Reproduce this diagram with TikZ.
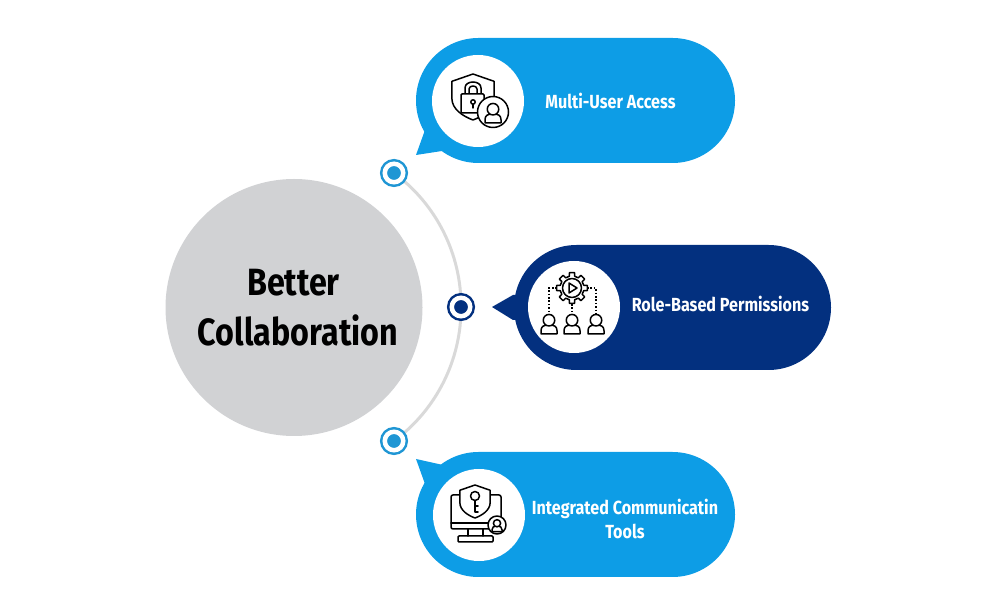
\documentclass[tikz,border=0pt]{standalone}
\usepackage{fontspec}
\setmainfont{Fira Sans}[FakeStretch=0.85]
\usepackage{tikz}
\usetikzlibrary{backgrounds,shapes.misc}
\definecolor{SkyBlue}{RGB}{13,157,230}
\definecolor{RingBlue}{RGB}{31,150,212}
\definecolor{NavyBlue}{RGB}{3,48,127}
\definecolor{HubGrey}{RGB}{209,210,212}
\definecolor{ArcGrey}{RGB}{217,217,217}
\newlength{\px}
\setlength{\px}{0.025cm}
\begin{document}
\begin{tikzpicture}[
    x=0.025cm,
    y=-0.025cm,
    pill/.style={
      shape=rounded rectangle,
      minimum width=319\px,
      minimum height=125\px,
      inner sep=0pt
    },
    disc/.style={
      circle,
      fill=white,
      minimum size=92\px,
      inner sep=0pt
    },
    marker/.style={
      circle,
      draw=#1,
      fill=#1,
      line width=2.5\px,
      double=white,
      double distance=4.5\px,
      minimum size=18.5\px,
      inner sep=0pt
    },
    label/.style={
      text=white,
      align=center,
      font=\bfseries\fontsize{13.5}{17.2}\selectfont
    },
    hub label/.style={
      text=black,
      align=center,
      font=\bfseries\fontsize{27}{35.5}\selectfont
    },
    icon/.style={draw=black, line width=1.5\px, line join=round, line cap=round},
    dots/.style={draw=black, line width=1.6\px, dash pattern=on 1.6\px off 1.8\px},
    person/.pic={
      \draw[icon] (-#1*1.0,#1*1.35) -- (#1*1.0,#1*1.35) -- (#1*1.0,#1*0.95)
        .. controls (#1*1.0,#1*0.45) and (#1*0.6,#1*0.25) .. (#1*0.35,#1*0.25)
        -- (-#1*0.35,#1*0.25)
        .. controls (-#1*0.6,#1*0.25) and (-#1*1.0,#1*0.45) .. (-#1*1.0,#1*0.95)
        -- cycle;
      \draw[icon, fill=white] (0,-#1*0.35) circle[radius=#1*0.72];
    },
    shield/.pic={
      \draw[icon, fill=white] (0,-#1) -- (#1*0.92,-#1*0.68) -- (#1*0.92,#1*0.05)
        .. controls (#1*0.92,#1*0.55) and (#1*0.4,#1*0.85) .. (0,#1)
        .. controls (-#1*0.4,#1*0.85) and (-#1*0.92,#1*0.55) .. (-#1*0.92,#1*0.05)
        -- (-#1*0.92,-#1*0.68) -- cycle;
    },
    gear/.pic={
      \draw[icon] (-13:12) \foreach \a in {0,45,...,315} {
          -- (\a-10:15.5) -- (\a+10:15.5) -- (\a+13:12) -- (\a+32:12)
        };
      \draw[icon] (0,0) circle[radius=9.5];
      \draw[icon] (-3,-5) -- (5,0) -- (-3,5) -- cycle;
    }
  ]
  \useasboundingbox (0,0) rectangle (1000,615);

  \node[circle, fill=HubGrey, minimum size=257\px, inner sep=0pt] (hub) at (294,307.5) {};
  \node[hub label] (hub-text) at (298,308) {Better\hspace*{9\px}\\Collaboration};

  \node[marker=RingBlue] (mark-access) at (394,173) {};
  \node[marker=NavyBlue] (mark-roles) at (461,307) {};
  \node[marker=RingBlue] (mark-tools) at (394,441) {};

  \begin{scope}[on background layer]
    \draw[ArcGrey, line width=3\px] (mark-access.center) to[bend left=27, looseness=.9] (mark-roles.center);
    \draw[ArcGrey, line width=3\px] (mark-roles.center) to[bend left=27, looseness=.9] (mark-tools.center);
  \end{scope}

  \fill[SkyBlue] (416,155) -- (442,151) -- (446,140) -- (425,130) -- cycle;
  \node[pill, fill=SkyBlue] (pill-access) at (575.5,100.5) {};
  \fill[NavyBlue] (492,307) -- (513,295) -- (522,295) -- (522,320) -- (513,320) -- cycle;
  \node[pill, fill=NavyBlue, minimum width=317\px] (pill-roles) at (672.5,307.5) {};
  \fill[SkyBlue] (416,459) -- (443,465) -- (446,475) -- (425,484) -- cycle;
  \node[pill, fill=SkyBlue] (pill-tools) at (575.5,514.5) {};

  \node[disc] (disc-access) at (478,101) {};
  \node[disc] (disc-roles) at (574,307) {};
  \node[disc] (disc-tools) at (479,515) {};

  \node[label] (text-access) at (610.5,101) {Multi-User Access};
  \node[label] (text-roles) at (720.5,304) {Role-Based Permissions};
  \node[label] (text-tools) at (625,519) {Integrated Communicatin\\Tools};

  % padlock in a shield, with a user badge
  \pic at (473,97) {shield=23};
  \draw[icon] (465,94) -- (465,88) .. controls (465,80) and (481,80) .. (481,88) -- (481,94);
  \draw[icon] (469,94) -- (469,89) .. controls (469,85) and (477,85) .. (477,89) -- (477,94);
  \draw[icon, fill=white, rounded corners=1\px] (461,94) rectangle (484,113);
  \draw[icon] (473,102) circle[radius=2.2];
  \draw[icon] (473,104) -- (473,108);
  \draw[icon, fill=white] (493,112) circle[radius=15.5];
  \pic at (493,112) {person=8};

  % gear driving three users
  \pic at (572,288) {gear};
  \draw[dots] (557,288) -- (549,288) -- (549,314);
  \draw[dots] (587,288) -- (596,288) -- (596,314);
  \draw[dots] (572,304) -- (572,314);
  \foreach \x in {549,572,596} {
    \pic at (\x,323) {person=8};
  }

  % monitor with a key shield and a user badge
  \draw[icon, rounded corners=2\px] (451,529) rectangle (501,495);
  \draw[icon] (451,523) -- (501,523);
  \draw[icon] (468,529) -- (468,536);
  \draw[icon] (483,529) -- (483,536);
  \draw[icon, rounded corners=1\px] (458,536) rectangle (493,542);
  \pic at (475,501.5) {shield=16.5};
  \draw[icon] (475,496) circle[radius=4.5];
  \draw[icon] (475,500.5) -- (475,512) -- (478,512);
  \draw[icon] (475,506) -- (478,506);
  \draw[icon, fill=white] (497,525) circle[radius=9];
  \pic at (497,525) {person=5};
\end{tikzpicture}
\end{document}
